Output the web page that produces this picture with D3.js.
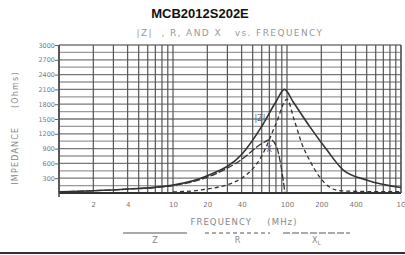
<!DOCTYPE html>
<html>
<head>
<meta charset="utf-8">
<script src="https://cdn.jsdelivr.net/npm/d3@7"></script>
<style>
  body { margin: 0; background: #fff; }
  svg text { font-family: "DejaVu Sans", sans-serif; }
</style>
</head>
<body>
<div id="chart-area"></div>
<script>
const margin = { top: 45, right: 4, bottom: 62, left: 59 };
const W = 405, H = 255;
const width = W - margin.left - margin.right;
const height = H - margin.top - margin.bottom;

// x tick values (MHz) and labels
const freqTicks = [2, 4, 10, 20, 40, 100, 200, 400, 1000];
const freqLabels = ["2", "4", "10", "20", "40", "100", "200", "400", "1G"];
const yTicks = [300, 600, 900, 1200, 1500, 1800, 2100, 2400, 2700, 3000];

// |Z|
const zFreq = [1, 2, 4, 10, 20, 40, 60, 80, 95, 113, 159, 224, 310, 505, 1000];
const zVals = [25, 45, 80, 160, 350, 780, 1350, 1850, 2100, 1850, 1340, 870, 470, 260, 110];
// R
const rFreq = [10, 20, 40, 60, 80, 100, 115, 135, 159, 194, 240, 300, 500, 1000];
const rVals = [20, 80, 300, 750, 1400, 1900, 1500, 1000, 650, 320, 110, 45, 30, 25];
// X
const xFreq = [1, 2, 4, 10, 20, 40, 60, 72, 82, 90, 96];
const xVals = [25, 45, 78, 150, 320, 680, 1000, 1080, 900, 450, 0];

const svg = d3.select("#chart-area").append("svg")
    .attr("width", W).attr("height", H);

const g = svg.append("g")
    .attr("transform", `translate(${margin.left}, ${margin.top})`);

const xScale = d3.scaleLog().domain([1, 1000]).range([0, width]);
const yScale = d3.scaleLinear().domain([0, 3000]).range([height, 0]);

// horizontal grid every 150 ohms
g.selectAll(".hgrid").data(d3.range(150, 3001, 150)).enter().append("line")
    .attr("x1", 0).attr("x2", width)
    .attr("y1", d => yScale(d)).attr("y2", d => yScale(d))
    .attr("stroke", d => d % 300 === 0 ? "#777" : "#999")
    .attr("stroke-width", 1.3);

// grid: vertical at every integer multiple of each decade
const vLines = [];
[1, 10, 100].forEach(dec => {
    for (let k = 1; k <= 9; k++) vLines.push(dec * k);
});
vLines.push(1000);

g.selectAll(".vgrid").data(vLines).enter().append("line")
    .attr("x1", d => xScale(d)).attr("x2", d => xScale(d))
    .attr("y1", 0).attr("y2", height)
    .attr("stroke", "#555").attr("stroke-width", 1.2);

// frame
g.append("line").attr("x1", 0).attr("x2", width).attr("y1", height).attr("y2", height)
    .attr("stroke", "#333").attr("stroke-width", 2);
g.append("line").attr("x1", 0).attr("x2", 0).attr("y1", 0).attr("y2", height + 4)
    .attr("stroke", "#444").attr("stroke-width", 1.5);
g.append("line").attr("x1", width).attr("x2", width).attr("y1", 0).attr("y2", height)
    .attr("stroke", "#555").attr("stroke-width", 1.2);

// y axis
const yAxis = g.append("g")
    .call(d3.axisLeft(yScale).tickValues(yTicks).tickSize(4).tickFormat(d3.format("d")));
yAxis.select(".domain").remove();
yAxis.selectAll("line").attr("stroke", "#666");
yAxis.selectAll("text").attr("fill", "#777").attr("font-size", "6.5px").attr("x", -4);

// x axis labels
const xAxis = g.append("g")
    .attr("transform", `translate(0, ${height})`)
    .call(d3.axisBottom(xScale).tickValues(freqTicks).tickSize(0)
        .tickFormat((d, i) => freqLabels[i]));
xAxis.select(".domain").remove();
xAxis.selectAll("text").attr("fill", "#777").attr("font-size", "7px").attr("dy", "1.6em");

// curves
const line = d3.line()
    .x(d => xScale(d[0]))
    .y(d => yScale(d[1]))
    .curve(d3.curveMonotoneX);

const series = [
    { f: zFreq, v: zVals, dash: null, w: 1.6 },
    { f: rFreq, v: rVals, dash: "4,3", w: 1.3 },
    { f: xFreq, v: xVals, dash: "7,2", w: 1.3 },
];
series.forEach(s => {
    g.append("path")
        .datum(s.f.map((f, i) => [f, s.v[i]]))
        .attr("d", line)
        .attr("fill", "none")
        .attr("stroke", "#333")
        .attr("stroke-width", s.w)
        .attr("stroke-dasharray", s.dash);
});

// curve labels
g.append("text").attr("x", xScale(52)).attr("y", yScale(1450))
    .attr("font-size", "8px").attr("fill", "#666").text("|Z|");
g.append("text").attr("x", xScale(66)).attr("y", yScale(830))
    .attr("font-size", "8px").attr("fill", "#666").text("X");

// titles
svg.append("text").attr("x", 200).attr("y", 18).attr("text-anchor", "middle")
    .attr("font-size", "13px").attr("font-weight", "bold").attr("fill", "#111")
    .style("font-family", "Liberation Sans, Arial, sans-serif")
    .text("MCB2012S202E");
svg.append("text").attr("x", 230).attr("y", 36).attr("text-anchor", "middle")
    .attr("font-size", "9px").attr("fill", "#999").attr("letter-spacing", "1.4px")
    .attr("xml:space", "preserve")
    .text("|Z|  , R, AND X   vs. FREQUENCY");

// y label
svg.append("text")
    .attr("transform", "translate(18, 128) rotate(-90)")
    .attr("text-anchor", "middle").attr("font-size", "8px").attr("fill", "#888")
    .attr("letter-spacing", "1.2px")
    .attr("xml:space", "preserve")
    .text("IMPEDANCE     (Ohms)");

// x label
svg.append("text").attr("x", 244).attr("y", 225).attr("text-anchor", "middle")
    .attr("font-size", "8.5px").attr("fill", "#888").attr("letter-spacing", "1.1px")
    .attr("xml:space", "preserve")
    .text("FREQUENCY    (MHz)");

// legend
const legend = [
    { name: "Z", sub: "", x1: 123, x2: 187, dash: null },
    { name: "R", sub: "", x1: 205, x2: 270, dash: "4,3" },
    { name: "X", sub: "L", x1: 283, x2: 350, dash: "7,2" },
];
legend.forEach(l => {
    svg.append("line").attr("x1", l.x1).attr("x2", l.x2).attr("y1", 233).attr("y2", 233)
        .attr("stroke", "#555").attr("stroke-width", 1)
        .attr("stroke-dasharray", l.dash);
    const t = svg.append("text").attr("x", (l.x1 + l.x2) / 2).attr("y", 243)
        .attr("text-anchor", "middle").attr("font-size", "8px").attr("fill", "#888")
        .text(l.name);
    if (l.sub) t.append("tspan").attr("font-size", "6px").attr("dy", 2).text(l.sub);
});

// bottom rule
svg.append("line").attr("x1", 0).attr("x2", W).attr("y1", 253).attr("y2", 253)
    .attr("stroke", "#333").attr("stroke-width", 2);
</script>
</body>
</html>
